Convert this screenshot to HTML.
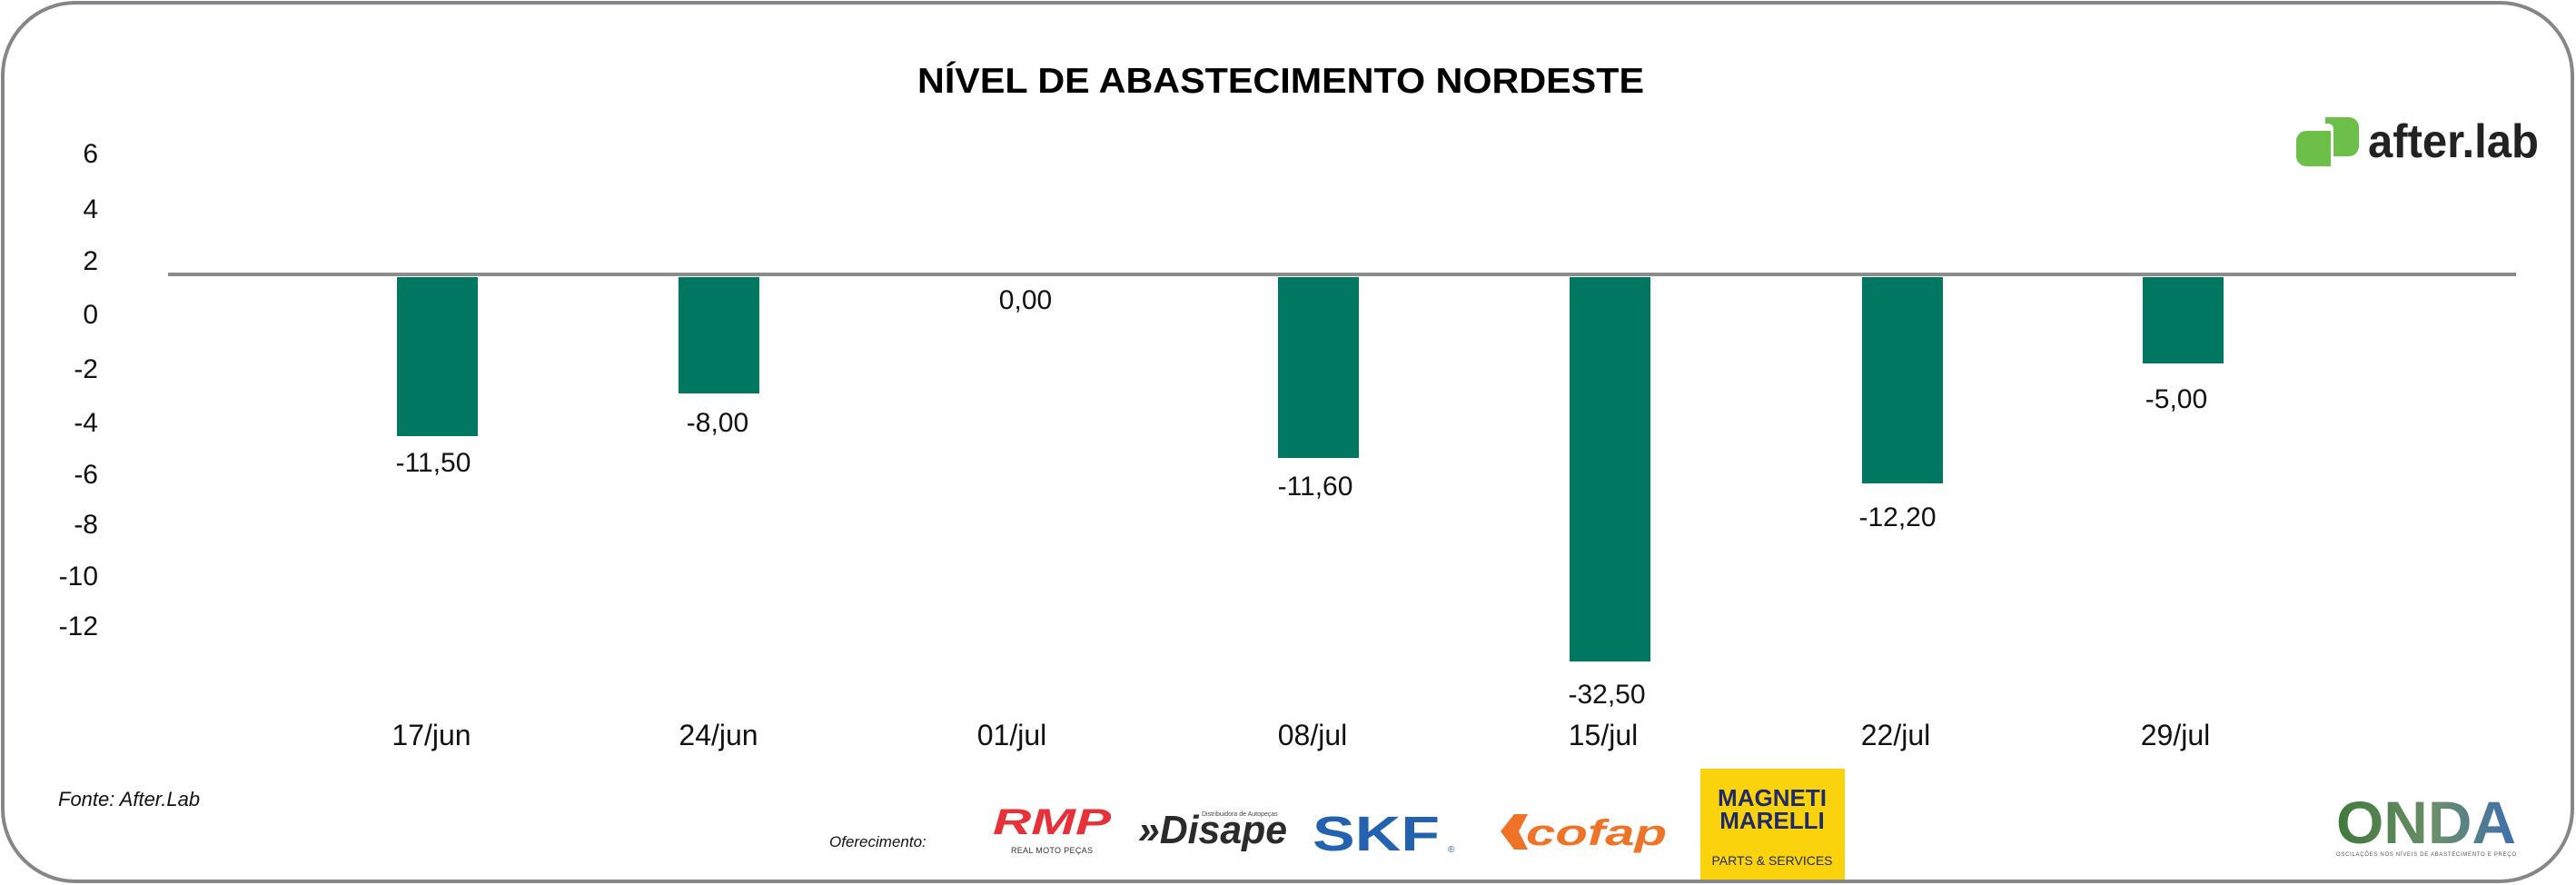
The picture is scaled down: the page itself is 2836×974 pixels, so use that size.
<!DOCTYPE html>
<html><head><meta charset="utf-8"><style>
html,body{margin:0;padding:0;background:#fff;}
svg{display:block;}
.n{font-family:"Liberation Sans Narrow","Liberation Sans",sans-serif;fill:#111;}
</style></head><body>
<svg width="2836" height="974" viewBox="0 0 2836 974" xmlns="http://www.w3.org/2000/svg">
<rect x="3" y="3" width="2829" height="967" rx="80" ry="80" fill="#fff" stroke="#858689" stroke-width="4"/>
<text x="1410" y="102" text-anchor="middle" font-family="Liberation Sans, sans-serif" font-weight="bold" font-size="39" textLength="800" lengthAdjust="spacingAndGlyphs" fill="#000">NÍVEL DE ABASTECIMENTO NORDESTE</text>
<!-- after.lab logo -->
<path d="M2560 129 h26 a11 11 0 0 1 11 11 v21 a11 11 0 0 1 -11 11 h-17 v-30 a6 6 0 0 0 -6 -6 h-3 z" fill="#6cc04a"/>
<path d="M2556 144 h10 v39 h-27 a11 11 0 0 1 -11 -11 v-17 a11 11 0 0 1 11 -11 z" fill="#6cc04a"/>
<text x="2607" y="173" font-family="Liberation Sans, sans-serif" font-weight="bold" font-size="52" textLength="188" lengthAdjust="spacingAndGlyphs" fill="#222">after.lab</text>
<!-- y axis labels -->
<g class="n" font-size="30" text-anchor="end">
<text x="108" y="179">6</text><text x="108" y="240">4</text><text x="108" y="297">2</text>
<text x="108" y="356">0</text><text x="108" y="416">-2</text><text x="108" y="475">-4</text>
<text x="108" y="532">-6</text><text x="108" y="587">-8</text><text x="108" y="644">-10</text>
<text x="108" y="699">-12</text>
</g>
<!-- bars -->
<g fill="#007760">
<rect x="437" y="305" width="89" height="175"/>
<rect x="747" y="305" width="89" height="128"/>
<rect x="1407" y="305" width="89" height="199"/>
<rect x="1728" y="305" width="89" height="423"/>
<rect x="2050" y="305" width="89" height="227"/>
<rect x="2359" y="305" width="89" height="95"/>
</g>
<rect x="185" y="300" width="2585" height="4" fill="#888a8c"/>
<!-- value labels -->
<g class="n" font-size="30" text-anchor="middle">
<text x="477" y="519">-11,50</text>
<text x="790" y="475">-8,00</text>
<text x="1129" y="340">0,00</text>
<text x="1448" y="545">-11,60</text>
<text x="1769" y="774">-32,50</text>
<text x="2089" y="579">-12,20</text>
<text x="2396" y="449">-5,00</text>
</g>
<!-- x labels -->
<g class="n" font-size="32" text-anchor="middle">
<text x="475" y="820">17/jun</text>
<text x="791" y="820">24/jun</text>
<text x="1114" y="820">01/jul</text>
<text x="1445" y="820">08/jul</text>
<text x="1765" y="820">15/jul</text>
<text x="2087" y="820">22/jul</text>
<text x="2395" y="820">29/jul</text>
</g>
<text x="64" y="887" class="n" font-size="22" font-style="italic">Fonte: After.Lab</text>
<text x="913" y="932" class="n" font-size="17" font-style="italic">Oferecimento:</text>
<!-- RMP -->
<text x="1093" y="918" font-family="Liberation Sans, sans-serif" font-weight="bold" font-size="40" textLength="130" lengthAdjust="spacingAndGlyphs" fill="#e63139" font-style="italic">RMP</text>
<text x="1113" y="939" font-family="Liberation Sans, sans-serif" font-size="9" textLength="90" fill="#333">REAL MOTO PEÇAS</text>
<!-- Disape -->
<text x="1253" y="928" font-family="Liberation Sans, sans-serif" font-weight="bold" font-size="44" font-style="italic" textLength="164" lengthAdjust="spacingAndGlyphs" fill="#2b2b2b">»Disape</text>
<text x="1323" y="898" font-family="Liberation Sans, sans-serif" font-size="7" fill="#444">Distribuidora de Autopeças</text>
<!-- SKF -->
<text x="1445" y="936" font-family="Liberation Sans, sans-serif" font-weight="bold" font-size="54" textLength="140" lengthAdjust="spacingAndGlyphs" fill="#2461b0">SKF</text>
<text x="1594" y="938" font-family="Liberation Sans, sans-serif" font-size="10" fill="#2461b0">®</text>
<!-- cofap -->
<path d="M1652 915 l15 -19 h15 l-10 19 l10 20 h-15 z" fill="#ee7326"/>
<text x="1680" y="930" font-family="Liberation Sans, sans-serif" font-weight="bold" font-style="italic" font-size="40" textLength="155" lengthAdjust="spacingAndGlyphs" fill="#ee7326">cofap</text>
<!-- Magneti Marelli -->
<rect x="1872" y="846" width="159" height="122" fill="#fbd30c"/>
<text x="1951" y="887" text-anchor="middle" font-family="Liberation Sans Narrow, Liberation Sans, sans-serif" font-weight="bold" font-size="26" fill="#1f2a6b">MAGNETI</text>
<text x="1951" y="912" text-anchor="middle" font-family="Liberation Sans Narrow, Liberation Sans, sans-serif" font-weight="bold" font-size="26" fill="#1f2a6b">MARELLI</text>
<text x="1951" y="952" text-anchor="middle" font-family="Liberation Sans Narrow, Liberation Sans, sans-serif" font-size="14" fill="#1f2a6b">PARTS &amp; SERVICES</text>
<!-- ONDA -->
<defs><linearGradient id="og" x1="0" x2="1" y1="0" y2="0"><stop offset="0" stop-color="#3f7a3a"/><stop offset="0.55" stop-color="#6b8e6a"/><stop offset="1" stop-color="#3c6fae"/></linearGradient></defs>
<text x="2572" y="928" font-family="Liberation Sans, sans-serif" font-weight="bold" font-size="66" textLength="198" lengthAdjust="spacingAndGlyphs" fill="url(#og)">ONDA</text>
<text x="2572" y="942" font-family="Liberation Sans, sans-serif" font-size="6" textLength="198" fill="#555">OSCILAÇÕES NOS NÍVEIS DE ABASTECIMENTO E PREÇO</text>
</svg>
</body></html>
